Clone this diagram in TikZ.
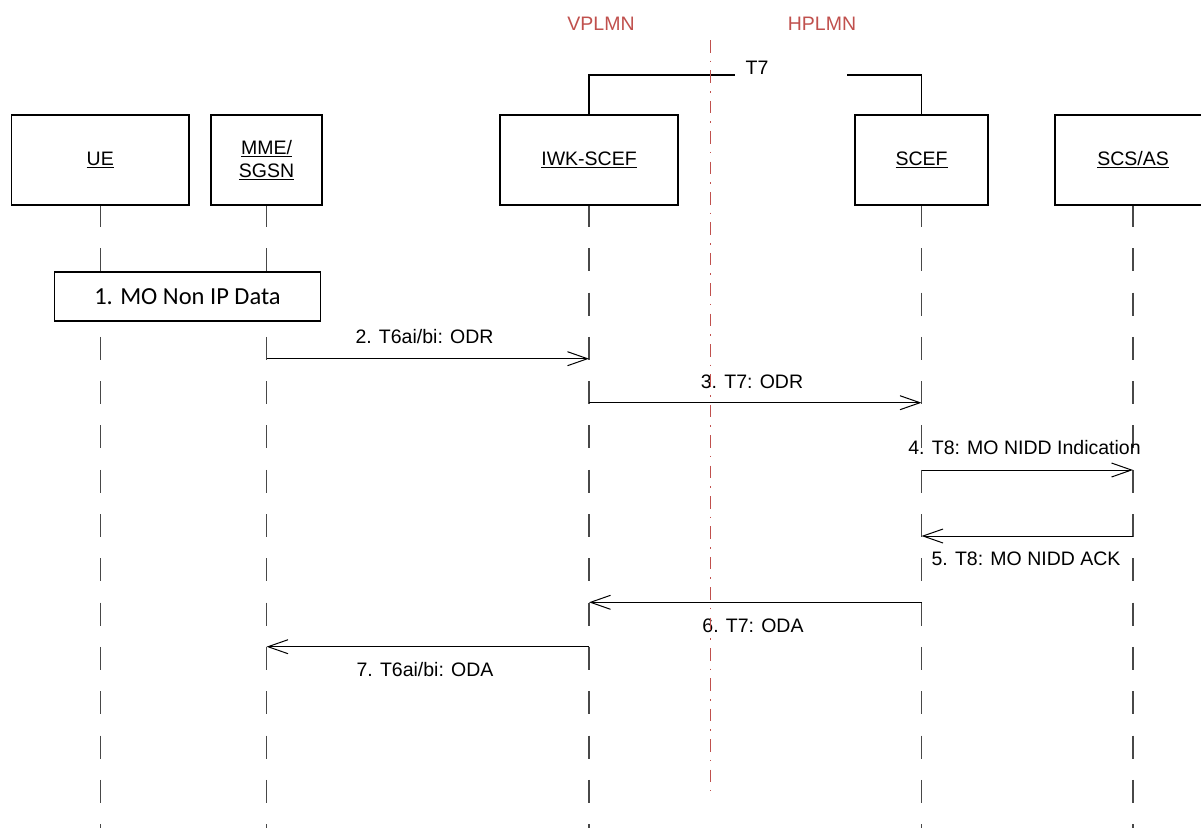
\documentclass[tikz,border=0pt]{standalone}
\usepackage{fontspec}
\setmainfont{Liberation Sans}
\newfontfamily\stepfont{Carlito}
\usetikzlibrary{arrows.meta}
\definecolor{plmnred}{HTML}{C0504D}
\definecolor{lifegray}{HTML}{484848}

\begin{document}
\begin{tikzpicture}[x=1pt,y=-1pt,
  txt/.style={font=\fontsize{19.5}{23}\selectfont, inner sep=0pt, anchor=base},
  entity/.style={draw=black, line width=1.1pt, fill=white, minimum width=#1,
    minimum height=90pt, inner sep=0pt, align=center,
    font=\fontsize{19.5}{23}\selectfont},
  stepbox/.style={draw=black, line width=1.1pt, fill=white, minimum width=266.4pt,
    minimum height=49pt, inner sep=0pt, text height=15.8pt, text depth=0pt,
    font=\stepfont\fontsize{24.5}{28}\selectfont},
  life/.style={draw=lifegray, line width=1.1pt, dash pattern=on 23pt off 21.3pt, dash phase=1.6pt},
  msg/.style={draw=black, line width=1pt,
    -{Straight Barb[length=20pt, width=14pt, line width=1pt]}},
  bracket/.style={draw=black, line width=1.5pt},
  border/.style={draw=plmnred, line width=1.4pt,
    dash pattern=on 12.6pt off 8pt on 1.5pt off 8.3pt},
  plmn/.style={txt, text=plmnred}]

  % page
  \fill[white] (0,0) rectangle (1201,828);
  \useasboundingbox (0,0) rectangle (1201,828);

  % lifelines (drawn first, the entity boxes cover their tops)
  \coordinate (bottom) at (0,828);
  \node[entity=177.5pt] (ue)   at (100.25,160) {};
  \node[entity=111pt]   (mme)  at (266.5,160)  {};
  \node[entity=178pt]   (iwk)  at (589,160)    {};
  \node[entity=133pt]   (scef) at (921.5,160)  {};
  \node[entity=156pt]   (scs)  at (1133,160)   {};
  \foreach \n in {ue,mme,iwk,scef,scs}
    \draw[life] (\n.south) -- (\n.south |- bottom);

  % entities
  \node[entity=177.5pt] at (ue)   {\underline{UE}};
  \node[entity=111pt]   at (mme)  {\underline{MME/}\\\underline{SGSN}};
  \node[entity=178pt]   at (iwk)  {\underline{IWK-SCEF}};
  \node[entity=133pt]   at (scef) {\underline{SCEF}};
  \node[entity=156pt]   at (scs)  {\underline{SCS/AS}};

  % network labels and T7 reference point
  \node[plmn] (vplmn) at (601,30.7) {VPLMN};
  \node[plmn] (hplmn) at (822,30.7) {HPLMN};
  \node[txt] (t7) at (757,74) {T7};
  \coordinate (t7l) at (735,75);
  \coordinate (t7r) at (847,75);
  \draw[bracket] (iwk.north) -- (iwk.north |- t7l) -- (t7l);
  \draw[bracket] (t7r) -- (scef.north |- t7r) -- (scef.north);

  % step 1
  \node[stepbox] (s1) at (187.5,296.5) {1. MO Non IP Data};

  % messages
  \coordinate (y2) at (0,358.7);
  \coordinate (y3) at (0,402.7);
  \coordinate (y4) at (0,470);
  \coordinate (y5) at (0,536);
  \coordinate (y6) at (0,602.3);
  \coordinate (y7) at (0,646.7);

  \draw[msg] (mme.south |- y2) -- (iwk.south |- y2);
  \node[txt] (l2) at (424.5,343.5) {2. T6ai/bi: ODR};

  \draw[msg] (iwk.south |- y3) -- (scef.south |- y3);
  \node[txt] (l3) at (752,388.5) {3. T7: ODR};

  \draw[msg] (scef.south |- y4) -- (scs.south |- y4);
  \node[txt] (l4) at (1024.5,454.7) {4. T8: MO NIDD Indication};

  \draw[msg] (scs.south |- y5) -- (scef.south |- y5);
  \node[txt] (l5) at (1026,565.5) {5. T8: MO NIDD ACK};

  \draw[msg] (scef.south |- y6) -- (iwk.south |- y6);
  \node[txt] (l6) at (753,632) {6. T7: ODA};

  \draw[msg] (iwk.south |- y7) -- (mme.south |- y7);
  \node[txt] (l7) at (425,676.5) {7. T6ai/bi: ODA};

  % VPLMN / HPLMN border
  \coordinate (btop) at (710.7,40);
  \coordinate (bbot) at (710.7,791);
  \draw[border] (btop) -- (bbot);
\end{tikzpicture}
\end{document}
